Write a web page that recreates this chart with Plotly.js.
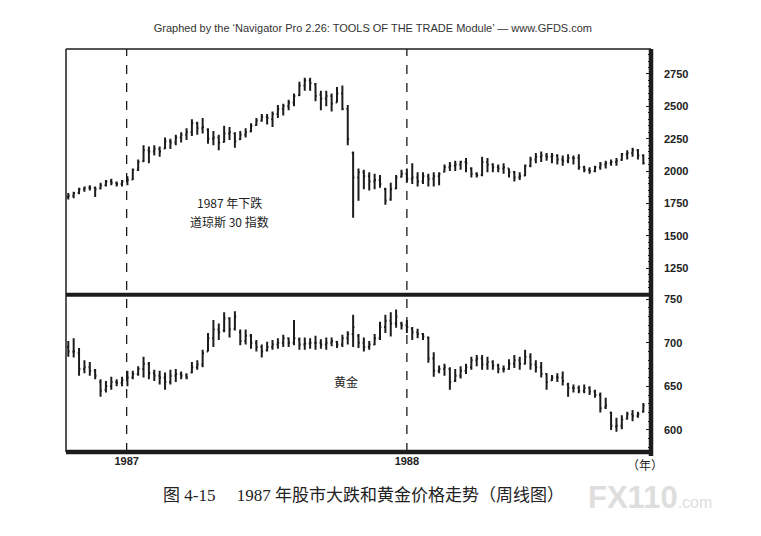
<!DOCTYPE html>
<html>
<head>
<meta charset="utf-8">
<script src="https://cdn.plot.ly/plotly-3.0.1.min.js"></script>
<style>
  body { margin: 0; background: #fff; }
  #chart { width: 761px; height: 536px; }
</style>
</head>
<body>
<div id="chart"></div>
<script>
// weekly bars, first week ending 1986-10-17
const firstWeek = '1986-10-17';
const weekCount = 108;

// Dow Jones 30 weekly bars
const dowOpen = [1800,1810,1830,1860,1870,1870,1865,1890,1920,1910,1900,1920,1935,2010,2075,2160,2150,2170,2175,2230,
  2220,2260,2280,2300,2370,2330,2320,2250,2260,2225,2290,2290,2245,2280,2305,2355,2390,2420,2400,2440,
  2480,2500,2530,2585,2660,2700,2670,2590,2560,2580,2530,2600,2480,2140,1950,1990,1960,1920,1930,1860,
  1780,1865,1955,1980,1940,1950,1920,1960,1940,1960,1995,2030,2040,2050,2070,2020,1980,1970,2070,2050,
  2030,2020,2020,1990,1950,1965,2040,2090,2110,2120,2110,2120,2090,2080,2100,2100,2030,2010,2000,2030,
  2050,2060,2070,2085,2130,2140,2160,2120];
const dowHigh = [1830,1840,1870,1880,1890,1880,1910,1930,1940,1920,1930,1960,2020,2090,2200,2190,2200,2190,2260,2250,
  2280,2300,2330,2400,2380,2410,2330,2310,2280,2350,2340,2300,2310,2330,2370,2410,2440,2440,2460,2510,
  2520,2550,2600,2690,2720,2720,2680,2620,2620,2600,2650,2660,2510,2150,2020,2010,1990,1980,1970,1870,
  1910,1970,2010,2020,2060,1990,1990,1980,1990,1990,2050,2070,2080,2080,2100,2030,1990,2110,2100,2060,
  2050,2060,2020,2000,1990,2050,2110,2140,2150,2140,2140,2130,2120,2130,2120,2130,2040,2030,2040,2070,
  2080,2090,2100,2140,2160,2180,2170,2130];
const dowLow = [1780,1790,1820,1840,1850,1800,1860,1880,1890,1880,1880,1890,1930,2000,2070,2060,2120,2110,2170,2170,
  2200,2220,2240,2270,2280,2290,2210,2200,2160,2220,2240,2180,2240,2260,2300,2350,2380,2360,2340,2410,
  2430,2470,2500,2580,2620,2620,2540,2470,2500,2460,2530,2470,2200,1640,1770,1860,1850,1860,1870,1740,
  1770,1860,1950,1910,1900,1880,1900,1880,1880,1890,1990,2000,2000,2010,1990,1950,1950,1960,1990,1990,
  1990,1980,1950,1920,1930,1960,2030,2060,2070,2080,2060,2050,2040,2060,2050,2010,1990,1980,1990,2010,
  2020,2040,2040,2080,2090,2110,2090,2050];
const dowClose = [1810,1830,1860,1870,1870,1860,1890,1920,1910,1900,1920,1930,2010,2070,2160,2150,2170,2150,2230,2220,
  2260,2280,2300,2370,2330,2340,2250,2260,2220,2290,2300,2230,2280,2300,2350,2390,2420,2410,2440,2480,
  2500,2530,2580,2660,2700,2680,2580,2560,2580,2520,2600,2480,2246,1950,1990,1960,1920,1930,1900,1770,
  1860,1950,1980,1940,1950,1920,1960,1940,1960,1980,2030,2040,2050,2070,2060,1980,1970,2070,2050,2030,
  2020,2030,1990,1950,1960,2040,2090,2110,2120,2110,2120,2090,2080,2100,2100,2030,2010,2000,2030,2050,
  2060,2070,2080,2130,2140,2160,2120,2060];

// gold weekly bars
const goldOpen = [695,690,688,670,672,668,655,646,650,655,654,657,660,664,670,676,665,662,660,655,
  662,664,662,666,672,675,690,705,715,714,728,716,712,702,708,700,695,691,695,698,
  700,705,700,704,698,699,700,700,698,700,701,698,705,710,708,700,695,698,705,718,
  725,722,722,720,716,712,710,706,682,668,670,670,656,662,668,672,680,682,675,678,
  674,670,670,676,680,676,684,675,672,664,657,660,660,652,648,648,645,648,644,640,
  626,620,604,605,613,618,616,621];
const goldHigh = [702,705,694,680,678,670,658,656,661,658,661,668,668,673,684,678,669,668,666,669,
  670,667,665,678,680,692,711,726,722,735,729,736,715,715,710,703,698,701,703,705,
  709,706,726,706,706,705,708,704,706,706,702,709,713,732,710,706,702,710,724,732,
  735,738,724,726,718,716,711,707,689,674,676,672,670,673,676,684,686,686,684,680,
  676,674,681,686,684,692,688,680,678,665,663,665,667,654,652,651,652,650,646,643,
  637,621,614,617,621,623,621,631];
const goldLow = [684,683,662,665,662,658,638,643,646,650,650,650,658,662,660,658,656,652,646,652,
  655,658,658,665,669,672,690,695,703,712,706,714,697,698,693,690,683,690,692,693,
  695,695,697,692,692,693,692,693,692,696,694,695,698,695,694,690,692,697,703,711,
  707,717,715,711,703,705,703,677,661,665,662,646,655,659,664,669,673,669,669,669,
  665,666,669,671,669,675,669,666,660,646,656,655,651,638,643,642,642,640,637,620,
  624,600,598,601,612,610,614,620];
const goldClose = [690,690,670,672,668,662,645,650,655,654,657,660,664,670,676,665,662,660,655,662,
  664,662,660,672,675,688,705,715,712,728,715,730,702,708,700,695,690,695,698,700,
  705,700,705,698,699,700,700,698,700,702,698,705,710,718,700,695,698,705,718,725,
  722,730,720,718,712,710,707,682,668,670,672,655,662,668,672,680,682,675,678,674,
  670,670,676,680,676,684,675,672,664,655,660,660,656,648,648,645,648,644,640,625,
  628,605,605,612,618,616,618,628];

const yearTicks = ['1987-01-01', '1988-01-01'];
const yearLabels = ['1987', '1988'];
const dowTicks = [1250, 1500, 1750, 2000, 2250, 2500, 2750];
const goldTicks = [600, 650, 700, 750];

function weekDates(start, n) {
  const out = [];
  const d = new Date(start + 'T00:00:00Z');
  for (let i = 0; i < n; i++) {
    out.push(d.toISOString().slice(0, 10));
    d.setUTCDate(d.getUTCDate() + 7);
  }
  return out;
}
const weeks = weekDates(firstWeek, weekCount);

const ink = '#1c1c1c';
const barStyle = { line: { color: ink, width: 2 } };

const traces = [
  {
    type: 'ohlc', x: weeks, open: dowOpen, high: dowHigh, low: dowLow, close: dowClose,
    xaxis: 'x', yaxis: 'y', increasing: barStyle, decreasing: barStyle,
    tickwidth: 0.25, hoverinfo: 'none', showlegend: false
  },
  {
    type: 'ohlc', x: weeks, open: goldOpen, high: goldHigh, low: goldLow, close: goldClose,
    xaxis: 'x', yaxis: 'y2', increasing: barStyle, decreasing: barStyle,
    tickwidth: 0.25, hoverinfo: 'none', showlegend: false
  }
];

const labelFont = { family: 'Arial, "Liberation Sans", sans-serif', size: 11, color: '#222', weight: 'bold' };
const cjk = '"Noto Sans CJK SC", "Liberation Sans", sans-serif';

// frame lines
const shapes = [
  { type: 'line', xref: 'paper', yref: 'paper', x0: 0, x1: 1, y0: 1, y1: 1, line: { color: ink, width: 1.5 } },
  { type: 'line', xref: 'paper', yref: 'paper', x0: 0, x1: 0, y0: 0, y1: 1, line: { color: ink, width: 1.5 } },
  { type: 'line', xref: 'paper', yref: 'paper', x0: 1, x1: 1, y0: -0.01, y1: 1, line: { color: ink, width: 4.5 } },
  { type: 'line', xref: 'paper', yref: 'paper', x0: 0, x1: 1, y0: 0.39, y1: 0.39, line: { color: ink, width: 4 } },
  { type: 'line', xref: 'paper', yref: 'paper', x0: 0, x1: 1, y0: 0, y1: 0, line: { color: ink, width: 4.5 } }
];
yearTicks.forEach(function (t) {
  shapes.push({ type: 'line', xref: 'x', yref: 'paper', x0: t, x1: t, y0: 0, y1: 1,
    line: { color: ink, width: 1.3, dash: 'dash' } });
});

function note(text, x, y, font) {
  return { text: text, xref: 'paper', yref: 'paper', x: x, y: y, xanchor: 'center', yanchor: 'middle',
    showarrow: false, font: font };
}
const noteFont = { family: cjk, size: 12, color: '#222' };

const layout = {
  width: 761, height: 536,
  margin: { l: 66, r: 110, t: 49, b: 84 },
  paper_bgcolor: '#fff', plot_bgcolor: '#fff',
  title: {
    text: 'Graphed by the \u2018Navigator Pro 2.26: TOOLS OF THE TRADE Module\u2019 \u2014 www.GFDS.com',
    font: { family: 'Arial, "Liberation Sans", sans-serif', size: 11, color: '#333' },
    xref: 'container', yref: 'container', x: 0.49, y: 0.948, xanchor: 'center', yanchor: 'middle'
  },
  xaxis: {
    type: 'date', range: ['1986-10-14', '1988-11-14'], anchor: 'y2',
    rangeslider: { visible: false },
    tickmode: 'array', tickvals: yearTicks, ticktext: yearLabels,
    ticks: '', showgrid: false, zeroline: false, showline: false,
    tickfont: labelFont, ticklabelstandoff: 1
  },
  yaxis: {
    domain: [0.395, 1], range: [1059, 2943], side: 'right',
    tickmode: 'array', tickvals: dowTicks,
    ticks: 'inside', ticklen: 5, tickcolor: ink,
    minor: { ticks: 'inside', ticklen: 3, dtick: 50, tickcolor: ink },
    showgrid: false, zeroline: false, showline: false,
    tickfont: labelFont, ticklabelstandoff: 12
  },
  yaxis2: {
    domain: [0, 0.385], range: [574.8, 752.5], side: 'right',
    tickmode: 'array', tickvals: goldTicks,
    ticks: 'inside', ticklen: 5, tickcolor: ink,
    minor: { ticks: 'inside', ticklen: 3, dtick: 10, tickcolor: ink },
    showgrid: false, zeroline: false, showline: false,
    tickfont: labelFont, ticklabelstandoff: 12
  },
  shapes: shapes,
  annotations: [
    note('1987 年下跌', 0.279, 0.62, noteFont),
    note('道琼斯 30 指数', 0.279, 0.571, noteFont),
    note('黄金', 0.479, 0.176, noteFont),
    note('（年）', 0.99, -0.03, noteFont),
    note('<b>FX110</b><span style="font-size:16px">.com</span>', 0.998, -0.112,
      { family: 'Arial, "Liberation Sans", sans-serif', size: 31, color: '#dedede' }),
    note('图 4-15　 1987 年股市大跌和黄金价格走势（周线图）', 0.508, -0.107,
      { family: '"Liberation Serif", "Noto Sans CJK SC", serif', size: 17, color: '#222' })
  ]
};

Plotly.newPlot('chart', traces, layout, { staticPlot: true, displayModeBar: false });
</script>
</body>
</html>
